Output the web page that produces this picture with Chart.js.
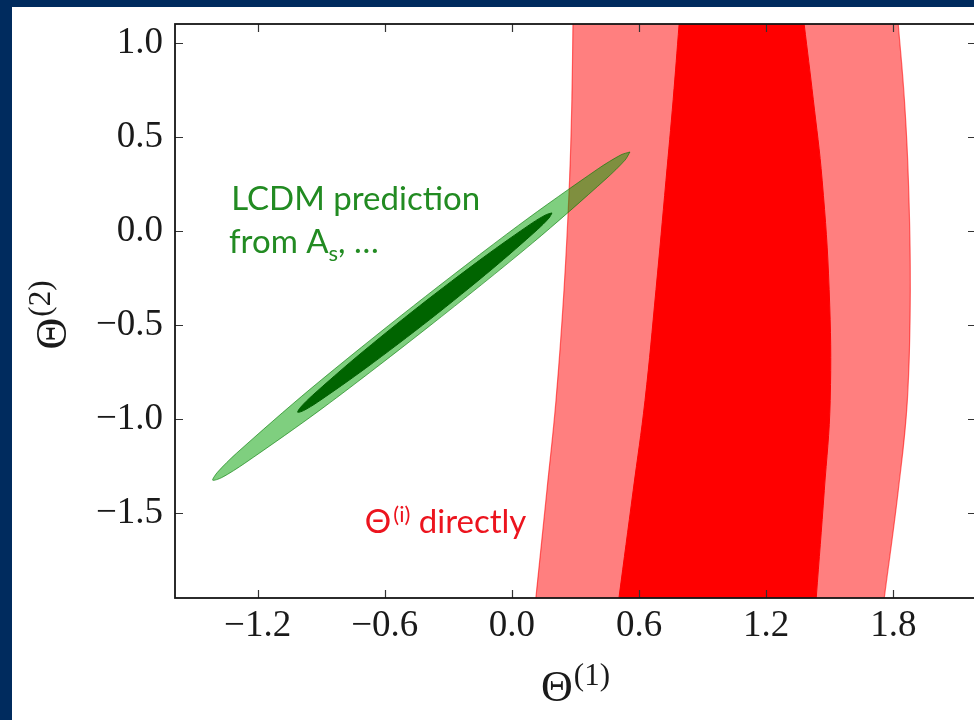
<!DOCTYPE html>
<html>
<head>
<meta charset="utf-8">
<script src="https://cdn.jsdelivr.net/npm/chart.js@4.4.1/dist/chart.umd.min.js"></script>
<style>
  html, body { margin: 0; padding: 0; width: 974px; height: 720px; overflow: hidden; background: #002b5e; }
  #sheet { position: absolute; left: 12px; top: 7px; width: 1000px; height: 713px; background: #fff; }
  #plot { display: block; }
</style>
</head>
<body>
<div id="sheet"><canvas id="plot" width="1000" height="713"></canvas></div>
<script>
// axis ranges and tick positions
const xRange = [-1.59, 2.19];
const yRange = [-1.95, 1.1];
const xTicks = [-1.2, -0.6, 0.0, 0.6, 1.2, 1.8];
const yTicks = [-1.5, -1.0, -0.5, 0.0, 0.5, 1.0];

// Θ(i) measured directly: the band edges, sampled at fixed Θ(2) levels
const bandY       = [1.1, 0.7, 0.27, -0.31, -0.9, -1.38, -1.95];
const outerLeftX  = [0.288, 0.283, 0.272, 0.246, 0.208, 0.165, 0.113];
const innerLeftX  = [0.789, 0.761, 0.727, 0.680, 0.628, 0.572, 0.505];
const innerRightX = [1.379, 1.422, 1.464, 1.497, 1.502, 1.474, 1.436];
const outerRightX = [1.823, 1.852, 1.871, 1.880, 1.866, 1.823, 1.757];

// LCDM prediction: contour outlines, going round from the upper tip
const outerEllX = [0.557, 0.534, 0.444, 0.098, -0.390, -0.887, -1.262, -1.369, -1.412, -1.389, -1.300, -0.953, -0.465, 0.032, 0.407, 0.515, 0.557];
const outerEllY = [0.420, 0.377, 0.277, -0.063, -0.506, -0.936, -1.235, -1.310, -1.324, -1.281, -1.181, -0.841, -0.398, 0.031, 0.331, 0.405, 0.420];
const innerEllX = [0.189, 0.175, 0.120, -0.090, -0.386, -0.690, -0.918, -0.983, -1.011, -0.997, -0.942, -0.732, -0.436, -0.132, 0.096, 0.162, 0.189];
const innerEllY = [0.096, 0.069, 0.007, -0.199, -0.469, -0.729, -0.910, -0.954, -0.963, -0.936, -0.874, -0.668, -0.398, -0.138, 0.043, 0.087, 0.096];

const pts = (xs, ys) => xs.map((x, i) => ({x: x, y: ys[i]}));
const fmt = v => (v < 0 ? '\u2212' : '') + Math.abs(v).toFixed(1);

const SERIF = '"Liberation Serif", "DejaVu Serif", serif';
const SANS = 'Lato, "Open Sans", sans-serif';

// draw a row of text pieces (base text, raised or lowered pieces)
function textWidth(ctx, runs) {
  let w = 0;
  for (const r of runs) { ctx.font = r.font; w += ctx.measureText(r.t).width + (r.gap || 0); }
  return w;
}
function drawRuns(ctx, runs, x, y) {
  for (const r of runs) {
    ctx.font = r.font;
    ctx.fillText(r.t, x, y + (r.dy || 0));
    x += ctx.measureText(r.t).width + (r.gap || 0);
  }
}

// frame with inward ticks on all four sides, like the matplotlib style
const frameTicks = {
  id: 'frameTicks',
  afterDatasetsDraw(chart) {
    const {ctx, chartArea: a, scales: {x, y}} = chart;
    ctx.save();
    ctx.strokeStyle = '#333';
    ctx.lineWidth = 1.2;
    ctx.beginPath();
    for (const v of xTicks) {
      const px = Math.round(x.getPixelForValue(v)) + 0.5;
      ctx.moveTo(px, a.bottom); ctx.lineTo(px, a.bottom - 8);
      ctx.moveTo(px, a.top); ctx.lineTo(px, a.top + 8);
    }
    for (const v of yTicks) {
      const py = Math.round(y.getPixelForValue(v)) + 0.5;
      ctx.moveTo(a.left, py); ctx.lineTo(a.left + 8, py);
      ctx.moveTo(a.right, py); ctx.lineTo(a.right - 8, py);
    }
    ctx.stroke();
    ctx.strokeStyle = '#151515';
    ctx.lineWidth = 1.8;
    ctx.strokeRect(a.left, a.top, a.width, a.height);
    ctx.restore();
  }
};

// axis titles and the two text labels inside the plot
const labels = {
  id: 'labels',
  afterDraw(chart) {
    const {ctx, chartArea: a, scales: {x, y}} = chart;
    ctx.save();
    ctx.textBaseline = 'alphabetic';
    ctx.textAlign = 'left';

    // Θ^(1) under the x axis
    ctx.fillStyle = '#1a1a1a';
    const xt = [
      {t: 'Θ', font: '44px ' + SERIF, gap: 1},
      {t: '(1)', font: '31px ' + SERIF, dy: -16}
    ];
    const wx = textWidth(ctx, xt);
    drawRuns(ctx, xt, (a.left + a.right) / 2 - wx / 2, a.bottom + 103);

    // Θ^(2) beside the y axis, rotated
    const yt = [
      {t: 'Θ', font: '44px ' + SERIF, gap: 1},
      {t: '(2)', font: '31px ' + SERIF, dy: -16}
    ];
    const wy = textWidth(ctx, yt);
    ctx.save();
    ctx.translate(a.left - 109, (a.top + a.bottom) / 2 + 4);
    ctx.rotate(-Math.PI / 2);
    drawRuns(ctx, yt, -wy / 2, 0);
    ctx.restore();

    // green note
    ctx.fillStyle = 'rgb(34,139,34)';
    drawRuns(ctx, [{t: 'LCDM prediction', font: '33px ' + SANS}],
      x.getPixelForValue(-1.325), y.getPixelForValue(0.112));
    drawRuns(ctx, [
      {t: 'from A', font: '33px ' + SANS},
      {t: 's', font: '22px ' + SANS, dy: 8},
      {t: ', \u2026', font: '33px ' + SANS}
    ], x.getPixelForValue(-1.335), y.getPixelForValue(-0.117));

    // red note
    ctx.fillStyle = 'rgb(236,20,30)';
    drawRuns(ctx, [
      {t: 'Θ', font: '33px ' + SANS, gap: 2},
      {t: '(i)', font: '22px ' + SANS, dy: -11},
      {t: ' directly', font: '33px ' + SANS}
    ], x.getPixelForValue(-0.694), y.getPixelForValue(-1.606));
    ctx.restore();
  }
};

new Chart(document.getElementById('plot'), {
  type: 'line',
  data: {
    datasets: [
      { // inner LCDM contour
        data: pts(innerEllX, innerEllY),
        order: 1, fill: 'shape', tension: 0.3,
        backgroundColor: 'rgb(0,100,0)', borderColor: 'rgb(0,95,0)', borderWidth: 1
      },
      { // outer LCDM contour
        data: pts(outerEllX, outerEllY),
        order: 2, fill: 'shape', tension: 0.3,
        backgroundColor: 'rgba(0,160,0,0.5)', borderColor: 'rgba(0,120,0,0.6)', borderWidth: 1
      },
      { // inner band, left edge
        data: pts(innerLeftX, bandY), indexAxis: 'y',
        order: 3, fill: '+1', tension: 0.4,
        backgroundColor: 'rgb(255,0,0)', borderColor: 'rgb(255,0,0)', borderWidth: 1
      },
      { // inner band, right edge
        data: pts(innerRightX, bandY), indexAxis: 'y',
        order: 3, fill: false, tension: 0.4,
        borderColor: 'rgb(255,0,0)', borderWidth: 1
      },
      { // outer band, left edge
        data: pts(outerLeftX, bandY), indexAxis: 'y',
        order: 4, fill: '+1', tension: 0.4,
        backgroundColor: 'rgba(255,0,0,0.5)', borderColor: 'rgba(255,0,0,0.55)', borderWidth: 1.2
      },
      { // outer band, right edge
        data: pts(outerRightX, bandY), indexAxis: 'y',
        order: 4, fill: false, tension: 0.4,
        borderColor: 'rgba(255,0,0,0.55)', borderWidth: 1.2
      }
    ]
  },
  options: {
    responsive: false,
    animation: false,
    devicePixelRatio: 1,
    elements: { point: { radius: 0, hoverRadius: 0 } },
    layout: { padding: { top: 17, right: 36, left: 0, bottom: 0 } },
    plugins: { legend: { display: false }, tooltip: { enabled: false } },
    scales: {
      x: {
        type: 'linear', min: xRange[0], max: xRange[1],
        grid: { display: false, drawTicks: false }, border: { display: false },
        afterBuildTicks: s => { s.ticks = xTicks.map(v => ({value: v})); },
        afterFit: s => { s.height = 122; s.paddingLeft = 0; s.paddingRight = 0; },
        ticks: { callback: fmt, color: '#1a1a1a', padding: 6, maxRotation: 0, autoSkip: false,
                 font: { family: SERIF, size: 37 } }
      },
      y: {
        type: 'linear', min: yRange[0], max: yRange[1],
        grid: { display: false, drawTicks: false }, border: { display: false },
        afterBuildTicks: s => { s.ticks = yTicks.map(v => ({value: v})); },
        afterFit: s => { s.width = 163; s.paddingTop = 0; s.paddingBottom = 0; },
        ticks: { callback: fmt, color: '#1a1a1a', padding: 12, autoSkip: false,
                 font: { family: SERIF, size: 37 } }
      }
    }
  },
  plugins: [frameTicks, labels]
});
</script>
</body>
</html>
